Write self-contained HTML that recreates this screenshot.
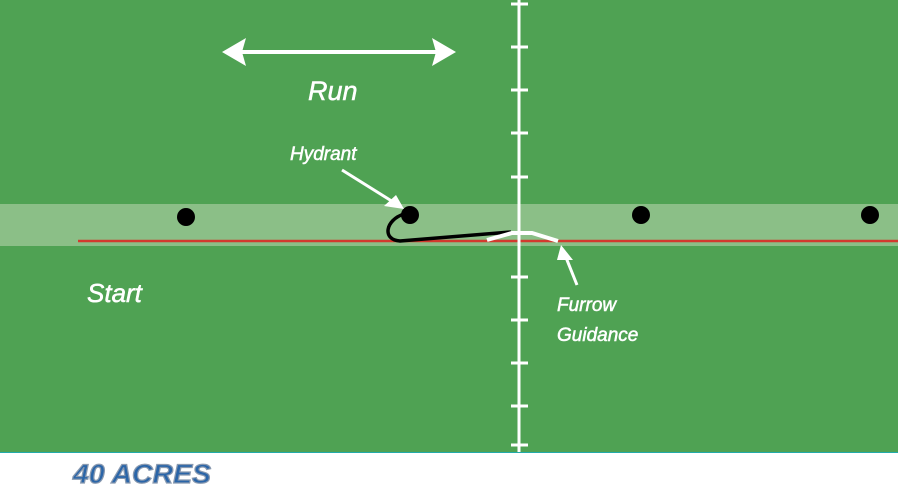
<!DOCTYPE html>
<html><head><style>body{margin:0}svg{display:block}</style></head><body>
<svg width="898" height="491" xmlns="http://www.w3.org/2000/svg">
<rect width="898" height="491" fill="#fff"/>
<rect width="898" height="452" fill="#4fa253"/>
<rect x="0" y="452" width="898" height="1" fill="#2aa"/>
<rect x="0" y="204" width="898" height="42" fill="#8bbf87"/>
<line x1="78" y1="241" x2="898" y2="241" stroke="#d23a2e" stroke-width="2.5"/>
<g stroke="#fff" stroke-width="3">
<line x1="519" y1="0" x2="519" y2="452"/>
<line x1="511" y1="4" x2="528" y2="4"/><line x1="511" y1="47" x2="528" y2="47"/>
<line x1="511" y1="90" x2="528" y2="90"/><line x1="511" y1="133" x2="528" y2="133"/>
<line x1="511" y1="177" x2="528" y2="177"/><line x1="511" y1="277" x2="528" y2="277"/>
<line x1="511" y1="320" x2="528" y2="320"/><line x1="511" y1="363" x2="528" y2="363"/>
<line x1="511" y1="406" x2="528" y2="406"/><line x1="511" y1="445" x2="528" y2="445"/>
</g>
<path d="M235 52 H443" stroke="#fff" stroke-width="4"/>
<path d="M222 52 L246 38 L242 52 L246 66Z M456 52 L432 38 L436 52 L432 66Z" fill="#fff"/>
<g fill="#000"><circle cx="186" cy="217" r="9"/><circle cx="410" cy="215" r="9"/><circle cx="641" cy="215" r="9"/><circle cx="870" cy="215" r="9"/></g>
<path d="M404 214 C385 220 382 240 400 241 L511 232" fill="none" stroke="#000" stroke-width="3.5"/>
<path d="M487 240 L512 233 L532 233 L558 241" fill="none" stroke="#fff" stroke-width="4"/>
<line x1="342" y1="170" x2="398" y2="205" stroke="#fff" stroke-width="3"/>
<path d="M404 209 L384 206 L396 195Z" fill="#fff"/>
<line x1="577" y1="285" x2="563" y2="250" stroke="#fff" stroke-width="3"/>
<path d="M561 245 L573 260 L557 260Z" fill="#fff"/>
<g font-family="Liberation Sans, sans-serif" font-style="italic" fill="#fff" stroke="#fff" stroke-width="0.5">
<text x="308" y="100" font-size="27">Run</text>
<text x="290" y="160" font-size="19">Hydrant</text>
<text x="87" y="302" font-size="26">Start</text>
<text x="557" y="311" font-size="19">Furrow</text>
<text x="557" y="341" font-size="19">Guidance</text>
</g>
<text x="73" y="483" font-family="Liberation Sans, sans-serif" font-style="italic" font-weight="bold" font-size="27" textLength="138" lengthAdjust="spacingAndGlyphs" fill="#2a65a8" stroke="#8a9ab0" stroke-width="1.2">40 ACRES</text>
</svg>
</body></html>
